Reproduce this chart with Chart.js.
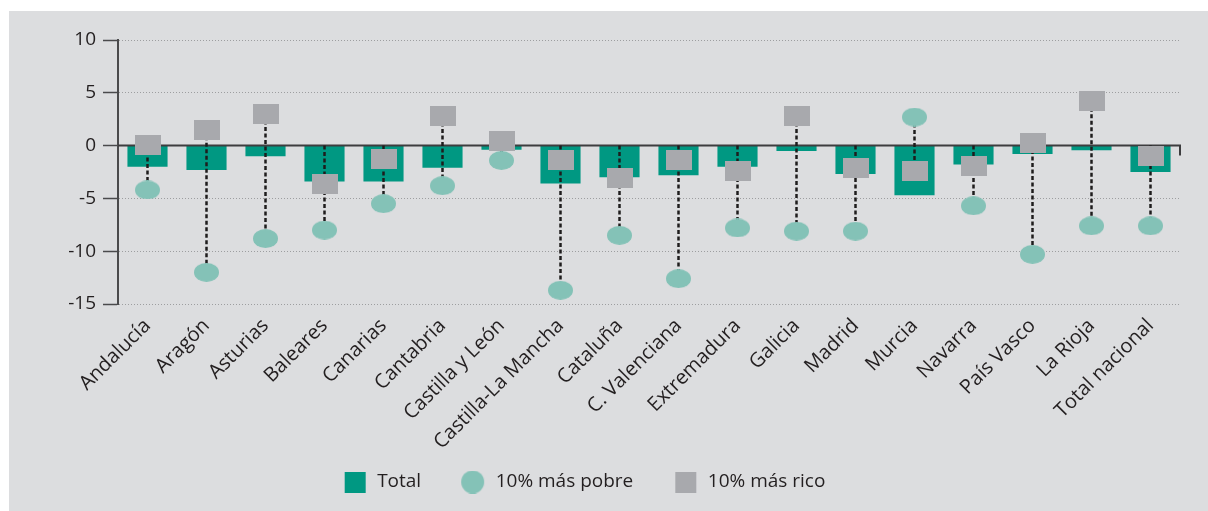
<!DOCTYPE html>
<html>
<head>
<meta charset="utf-8">
<script src="https://cdn.jsdelivr.net/npm/chart.js@4.4.1/dist/chart.umd.min.js"></script>
<style>
html, body { margin:0; padding:0; background:#fff; overflow:hidden; }
.panel { position:absolute; left:9px; top:11px; right:0; bottom:0; background:#dcdddf; }
.wrap { position:absolute; left:-38px; top:0; width:1246px; height:511px; }
</style>
</head>
<body>
<div class="panel"></div>
<div class="wrap"><canvas id="grafico"></canvas></div>
<script>
const regiones = ['Andalucía','Aragón','Asturias','Baleares','Canarias','Cantabria','Castilla y León','Castilla-La Mancha','Cataluña','C. Valenciana','Extremadura','Galicia','Madrid','Murcia','Navarra','País Vasco','La Rioja','Total nacional']
const total =    [-2.0,-2.3,-1.0,-3.4,-3.4,-2.1,-0.4,-3.6,-3.0,-2.8,-2.0,-0.5,-2.7,-4.7,-1.8,-0.8,-0.45,-2.5]
const masPobre = [-4.2,-12.0,-8.8,-8.0,-5.5,-3.8,-1.4,-13.7,-8.5,-12.6,-7.8,-8.1,-8.1,2.7,-5.7,-10.3,-7.6,-7.6]
const masRico =  [0.1,1.5,3.0,-3.6,-1.3,2.8,0.4,-1.4,-3.1,-1.4,-2.4,2.8,-2.1,-2.4,-1.9,0.2,4.2,-1.0]
const yTicks = [10,5,0,-5,-10,-15]

const colorTotal = '#009882'
const colorPobre = '#84c2b7'
const colorRico = '#a8a9ad'
const texto = '#231f20'
const fuente = 'Open Sans'

// marcas dibujadas en un canvas pequeño (elipse y rectangulo)
// margenIzq deja un hueco a la izquierda (para separar items de la leyenda)
function marca(w, h, color, forma, margenIzq = 0, ancho = w){
    const c = document.createElement('canvas')
    c.width = Math.max(ancho, w + margenIzq)
    c.height = h
    const g = c.getContext('2d')
    g.fillStyle = color
    if(forma == 'elipse'){
        g.beginPath()
        g.ellipse(margenIzq + w/2, h/2, w/2, h/2, 0, 0, Math.PI*2)
        g.fill()
    }else{
        g.fillRect(margenIzq, 0, w, h)
    }
    return c
}

// linea de cero + lineas punteadas entre los extremos
const conectores = {
    id:'conectores',
    afterDatasetDraw(chart, args){
        if(args.index !== 0) return
        const {ctx, chartArea, scales:{x, y}} = chart
        const y0 = y.getPixelForValue(0)
        ctx.save()
        ctx.strokeStyle = '#3d3d3f'
        ctx.lineWidth = 2
        ctx.beginPath()
        ctx.moveTo(chartArea.left, y0)
        ctx.lineTo(chartArea.right, y0)
        ctx.lineTo(chartArea.right, y0 + 10)
        ctx.stroke()

        ctx.setLineDash([4, 2.5])
        ctx.lineWidth = 2.5
        ctx.strokeStyle = '#1e1c1d'
        regiones.forEach((r, i)=>{
            const vals = [0, masPobre[i], masRico[i]]
            const xp = x.getPixelForValue(i)
            ctx.beginPath()
            ctx.moveTo(xp, y.getPixelForValue(Math.max(...vals)))
            ctx.lineTo(xp, y.getPixelForValue(Math.min(...vals)))
            ctx.stroke()
        })
        ctx.restore()
    }
}

const anchoCaja = 51
const ctx = document.getElementById('grafico')
new Chart(ctx, {
    data:{
        labels: regiones,
        datasets:[
            {
                type:'bar',
                label:'Total',
                data: total,
                backgroundColor: colorTotal,
                barPercentage: 0.68,
                categoryPercentage: 1,
                order: 2
            },
            {
                type:'line',
                label:'10% más rico',
                data: masRico,
                showLine: false,
                pointStyle: marca(26, 20, colorRico),
                order: 1
            },
            {
                type:'line',
                label:'10% más pobre',
                data: masPobre,
                showLine: false,
                pointStyle: marca(25, 19, colorPobre, 'elipse'),
                order: 0
            }
        ]
    },
    options:{
        responsive: true,
        maintainAspectRatio: false,
        animation: false,
        events: [],
        layout:{ padding:{ top:40, right:28, left:0, bottom:9.5 } },
        scales:{
            x:{
                grid:{ display:false },
                border:{ display:false },
                ticks:{
                    autoSkip:false,
                    maxRotation:45,
                    minRotation:45,
                    padding:2,
                    color: texto,
                    font:{ family: fuente, size:20 }
                },
                afterFit(s){ s.height = 154.5 }
            },
            y:{
                min:-15,
                max:10,
                afterBuildTicks(s){ s.ticks = yTicks.map(v=>({value:v})) },
                afterFit(s){ s.width = 156 },
                grid:{
                    color:(c)=> c.tick && c.tick.value === 0 ? 'rgba(0,0,0,0)' : '#9d9ea0',
                    lineWidth:1,
                    tickLength:15,
                    tickColor:'#4a4a4c',
                    tickWidth:1.5,
                    tickBorderDash:[]
                },
                border:{ display:true, color:'#4a4a4c', width:2, dash:[1,2] },
                ticks:{
                    padding:7,
                    color: texto,
                    font:{ family: fuente, size:19 }
                }
            }
        },
        plugins:{
            tooltip:{ enabled:false },
            legend:{
                position:'bottom',
                labels:{
                    usePointStyle:true,
                    pointStyleWidth: anchoCaja,
                    padding:14,
                    color: texto,
                    font:{ family: fuente, size:19 },
                    generateLabels:()=>[
                        { text:'Total', pointStyle: marca(21, 21, colorTotal, 'caja', anchoCaja-23, anchoCaja), fillStyle: colorTotal, strokeStyle:'rgba(0,0,0,0)', lineWidth:0, hidden:false, datasetIndex:0, fontColor: texto },
                        { text:'10% más pobre', pointStyle: marca(23, 23, colorPobre, 'elipse', anchoCaja-25, anchoCaja), fillStyle: colorPobre, strokeStyle:'rgba(0,0,0,0)', lineWidth:0, hidden:false, datasetIndex:2, fontColor: texto },
                        { text:'10% más rico', pointStyle: marca(21, 21, colorRico, 'caja', anchoCaja-23, anchoCaja), fillStyle: colorRico, strokeStyle:'rgba(0,0,0,0)', lineWidth:0, hidden:false, datasetIndex:1, fontColor: texto }
                    ]
                }
            }
        }
    },
    plugins:[conectores]
})
</script>
</body>
</html>
